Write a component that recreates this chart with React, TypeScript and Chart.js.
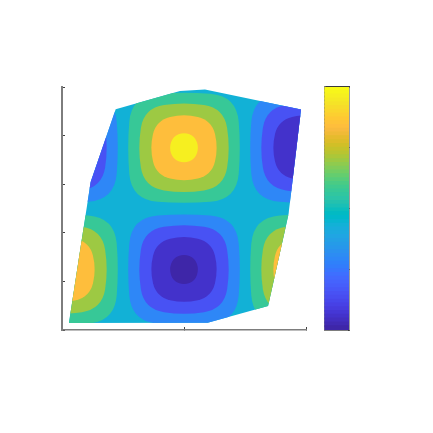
import React, { useEffect, useRef } from "react";
import { Chart, registerables } from "chart.js";

Chart.register(...registerables);

const parula: number[][] = [
  [0.2422,0.1504,0.6603],[0.2504,0.165,0.7076],[0.2578,0.1818,0.7511],[0.2647,0.1978,0.7952],
  [0.2706,0.2147,0.8364],[0.2751,0.2342,0.871],[0.2783,0.2559,0.8991],[0.2803,0.2782,0.9221],
  [0.2813,0.3006,0.9414],[0.281,0.3228,0.9579],[0.2795,0.3447,0.9717],[0.276,0.3667,0.9829],
  [0.2699,0.3892,0.9906],[0.2602,0.4123,0.9952],[0.244,0.4358,0.9988],[0.2206,0.4603,0.9973],
  [0.1963,0.4847,0.9892],[0.1834,0.5074,0.9798],[0.1786,0.5289,0.9682],[0.1764,0.5499,0.952],
  [0.1687,0.5703,0.9359],[0.154,0.5902,0.9218],[0.146,0.6091,0.9079],[0.138,0.6276,0.8973],
  [0.1248,0.6459,0.8883],[0.1113,0.6635,0.8763],[0.0952,0.6798,0.8598],[0.0689,0.6948,0.8394],
  [0.0297,0.7082,0.8163],[0.0036,0.7203,0.7917],[0.0067,0.7312,0.766],[0.0433,0.7411,0.7394],
  [0.0964,0.75,0.712],[0.1408,0.7584,0.6842],[0.1717,0.767,0.6554],[0.1938,0.7758,0.6251],
  [0.2161,0.7843,0.5923],[0.247,0.7918,0.5567],[0.2906,0.7973,0.5188],[0.3406,0.8008,0.4789],
  [0.3909,0.8029,0.4354],[0.4456,0.8024,0.3909],[0.5044,0.7993,0.348],[0.5616,0.7942,0.3045],
  [0.6174,0.7876,0.2612],[0.672,0.7793,0.2227],[0.7242,0.7698,0.191],[0.7738,0.7598,0.1646],
  [0.8203,0.7498,0.1535],[0.8634,0.7406,0.1596],[0.9035,0.733,0.1774],[0.9393,0.7288,0.21],
  [0.9728,0.7312,0.2394],[0.9956,0.7434,0.2371],[0.997,0.7659,0.2199],[0.9952,0.7861,0.1996],
  [0.9892,0.8136,0.1885],[0.9786,0.8386,0.1766],[0.9676,0.8639,0.1643],[0.961,0.889,0.1537],
  [0.9597,0.9135,0.1423],[0.9628,0.9373,0.1265],[0.9691,0.9606,0.1064],[0.9769,0.9839,0.0805],
];

// level names -> colormap index
const levelIndex = { darkest: 0, dark: 3, indigo: 9, blue: 18, base: 27, green: 36, lime: 44, orange: 53, yellow: 61 };

// domain outline
const outlineX = [0.057, 1.194, 1.689, 1.857, 1.959, 1.172, 0.967, 0.44, 0.235];
const outlineY = [0.029, 0.03, 0.099, 0.477, 0.907, 0.99, 0.984, 0.908, 0.609];

// contour rings, by column (x) and by row (y)
const midXRing1 = [1.122, 1.089, 1, 0.911, 0.878, 0.911, 1, 1.089];
const midXRing2 = [1.281, 1.227, 1, 0.773, 0.719, 0.773, 1, 1.227];
const midXRing3 = [1.379, 1.328, 1, 0.672, 0.621, 0.672, 1, 1.328];
const midXRing4 = [1.466, 1.431, 1, 0.569, 0.534, 0.569, 1, 1.431];
const leftXRing2 = [0.281, 0.227, 0, -0.227, -0.281, -0.227, 0, 0.227];
const leftXRing3 = [0.379, 0.328, 0, -0.328, -0.379, -0.328, 0, 0.328];
const leftXRing4 = [0.466, 0.431, 0, -0.431, -0.466, -0.431, 0, 0.431];
const rightXRing2 = [2.281, 2.227, 2, 1.773, 1.719, 1.773, 2, 2.227];
const rightXRing3 = [2.379, 2.328, 2, 1.672, 1.621, 1.672, 2, 2.328];
const rightXRing4 = [2.466, 2.431, 2, 1.569, 1.534, 1.569, 2, 2.431];
const upperYRing1 = [0.75, 0.797, 0.814, 0.797, 0.75, 0.703, 0.686, 0.703];
const upperYRing2 = [0.75, 0.863, 0.89, 0.863, 0.75, 0.637, 0.61, 0.637];
const upperYRing3 = [0.75, 0.913, 0.938, 0.913, 0.75, 0.587, 0.562, 0.587];
const upperYRing4 = [0.75, 0.964, 0.981, 0.964, 0.75, 0.536, 0.519, 0.536];
const lowerYRing1 = [0.249, 0.296, 0.313, 0.296, 0.249, 0.202, 0.185, 0.202];
const lowerYRing2 = [0.249, 0.362, 0.389, 0.362, 0.249, 0.136, 0.109, 0.136];
const lowerYRing3 = [0.249, 0.412, 0.437, 0.412, 0.249, 0.086, 0.061, 0.086];
const lowerYRing4 = [0.249, 0.463, 0.48, 0.463, 0.249, 0.035, 0.018, 0.035];

type Level = keyof typeof levelIndex;
const contours: [Level, number[], number[]][] = [
  ["green", midXRing4, upperYRing4],
  ["lime", midXRing3, upperYRing3],
  ["orange", midXRing2, upperYRing2],
  ["yellow", midXRing1, upperYRing1],
  ["blue", midXRing4, lowerYRing4],
  ["indigo", midXRing3, lowerYRing3],
  ["dark", midXRing2, lowerYRing2],
  ["darkest", midXRing1, lowerYRing1],
  ["green", leftXRing4, lowerYRing4],
  ["lime", leftXRing3, lowerYRing3],
  ["orange", leftXRing2, lowerYRing2],
  ["green", rightXRing4, lowerYRing4],
  ["lime", rightXRing3, lowerYRing3],
  ["orange", rightXRing2, lowerYRing2],
  ["blue", leftXRing4, upperYRing4],
  ["indigo", leftXRing3, upperYRing3],
  ["dark", leftXRing2, upperYRing2],
  ["blue", rightXRing4, upperYRing4],
  ["indigo", rightXRing3, upperYRing3],
  ["dark", rightXRing2, upperYRing2],
];

const xTicks = [0, 1, 2];
const yTicks = [0, 0.2, 0.4, 0.6, 0.8, 1];
const barTicks = [16, 32, 48];

const rgb = (c: number[]) => `rgb(${c.map((v) => Math.round(v * 255)).join(",")})`;
const levelColor = (l: Level) => rgb(parula[levelIndex[l]]);
const zip = (xs: number[], ys: number[]) => xs.map((x, i) => ({ x, y: ys[i] }));

const contourPlugin = {
  id: "filledContours",
  afterDatasetsDraw(chart: any) {
    const { ctx, scales } = chart;
    const px = (p: any) => [scales.x.getPixelForValue(p.x), scales.y.getPixelForValue(p.y)];
    const outline = chart.data.datasets[0].data.map(px);
    const trace = () => {
      ctx.beginPath();
      outline.forEach(([x, y]: number[], i: number) => (i ? ctx.lineTo(x, y) : ctx.moveTo(x, y)));
      ctx.closePath();
    };
    ctx.save();
    trace();
    ctx.fillStyle = chart.data.datasets[0].backgroundColor;
    ctx.fill();
    ctx.clip();
    chart.data.datasets.slice(1).forEach((ds: any) => {
      const pts = ds.data.map(px);
      const n = pts.length;
      const mid = (a: number[], b: number[]) => [(a[0] + b[0]) / 2, (a[1] + b[1]) / 2];
      const s = mid(pts[n - 1], pts[0]);
      ctx.beginPath();
      ctx.moveTo(s[0], s[1]);
      for (let i = 0; i < n; i++) {
        const m = mid(pts[i], pts[(i + 1) % n]);
        ctx.quadraticCurveTo(pts[i][0], pts[i][1], m[0], m[1]);
      }
      ctx.closePath();
      ctx.fillStyle = ds.backgroundColor;
      ctx.fill();
    });
    ctx.restore();
  },
};

const axisGrey = "#7d7d7d";
const tickDark = "#404040";

export default function App() {
  const mainRef = useRef<HTMLCanvasElement>(null);
  const barRef = useRef<HTMLCanvasElement>(null);

  useEffect(() => {
    const hidden = { display: false };
    const main = new Chart(mainRef.current!, {
      type: "scatter",
      data: {
        datasets: [
          { data: zip(outlineX, outlineY), backgroundColor: levelColor("base"), pointRadius: 0 },
          ...contours.map(([l, xs, ys]) => ({ data: zip(xs, ys), backgroundColor: levelColor(l), pointRadius: 0 })),
        ],
      },
      options: {
        responsive: false,
        animation: false,
        layout: { padding: { left: 62, right: 127, top: 87, bottom: 103 } },
        plugins: { legend: hidden, tooltip: { enabled: false } },
        scales: {
          x: {
            type: "linear", min: 0, max: 2,
            afterBuildTicks: (s: any) => { s.ticks = xTicks.map((value) => ({ value })); },
            afterFit: (s: any) => { s.height = 0; },
            ticks: { display: false },
            grid: { drawOnChartArea: false, tickLength: -3, color: tickDark, lineWidth: 1 },
            border: { color: axisGrey, width: 1.5 },
          },
          y: {
            type: "linear", min: 0, max: 1,
            afterBuildTicks: (s: any) => { s.ticks = yTicks.map((value) => ({ value })); },
            afterFit: (s: any) => { s.width = 0; },
            ticks: { display: false },
            grid: { drawOnChartArea: false, tickLength: -3, color: tickDark, lineWidth: 1 },
            border: { color: axisGrey, width: 2 },
          },
        },
      },
      plugins: [contourPlugin],
    } as any);

    const bar = new Chart(barRef.current!, {
      type: "bar",
      data: {
        labels: ["colormap"],
        datasets: parula.map((c) => ({
          data: [1], backgroundColor: rgb(c), borderWidth: 0, stack: "cmap", inflateAmount: 1,
          categoryPercentage: 1, barPercentage: 1,
        })),
      },
      options: {
        responsive: false,
        animation: false,
        layout: { padding: { left: 324.5, right: 84, top: 87, bottom: 103 } },
        plugins: { legend: hidden, tooltip: { enabled: false } },
        scales: {
          x: {
            stacked: true,
            position: "top",
            afterFit: (s: any) => { s.height = 0; },
            ticks: { display: false },
            grid: { display: false },
            border: { display: true, color: "#3a3a3a", width: 1.5 },
          },
          xBottom: {
            axis: "x",
            position: "bottom",
            afterFit: (s: any) => { s.height = 0; },
            ticks: { display: false },
            grid: { display: false },
            border: { display: true, color: axisGrey, width: 1 },
          },
          y: {
            stacked: true,
            position: "right",
            min: 0, max: 64,
            afterBuildTicks: (s: any) => { s.ticks = barTicks.map((value) => ({ value })); },
            afterFit: (s: any) => { s.width = 0; },
            ticks: { display: false },
            grid: { drawOnChartArea: false, tickLength: -3, color: "#303030", lineWidth: 1 },
            border: { color: "#3a3a3a", width: 1.5 },
          },
          yLeft: {
            axis: "y",
            position: "left",
            min: 0, max: 64,
            afterFit: (s: any) => { s.width = 0; },
            ticks: { display: false },
            grid: { display: false },
            border: { display: true, color: axisGrey, width: 1.5 },
          },
        },
      },
    } as any);

    return () => {
      main.destroy();
      bar.destroy();
    };
  }, []);

  const layer: React.CSSProperties = { position: "absolute", left: 0, top: 0 };
  return (
    <div style={{ position: "fixed", left: 0, top: 0, width: 433, height: 433, background: "#fff" }}>
      <canvas ref={mainRef} width={433} height={433} style={layer} />
      <canvas ref={barRef} width={433} height={433} style={layer} />
    </div>
  );
}
